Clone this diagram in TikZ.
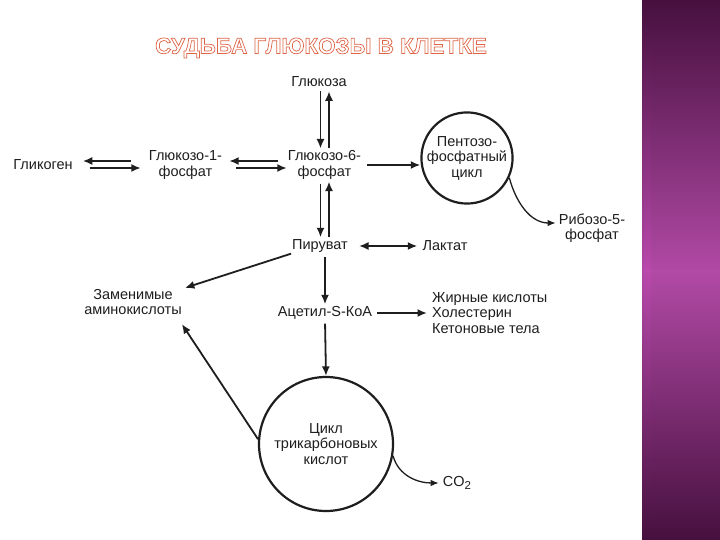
\documentclass[tikz,border=0pt]{standalone}
\usepackage{fontspec}
\setmainfont{Liberation Sans}
\usetikzlibrary{arrows.meta}
\definecolor{txt}{HTML}{1E1E1E}
\definecolor{ttl}{RGB}{222,100,70}
\definecolor{bandA}{HTML}{46103E}
\definecolor{bandB}{HTML}{B24AA6}
\definecolor{stripe}{HTML}{C24AB4}
\newcommand{\outlinetext}[1]{\special{pdf:literal 1 Tr 0.7 w}#1\special{pdf:literal 0 Tr}}
\begin{document}
\begin{tikzpicture}[x=1pt,y=1pt,
  lbl/.style={font=\fontsize{14.5}{15.5}\selectfont, align=center, inner sep=1pt, text=txt},
  tip/.style={-{Latex[length=9.5pt,width=8pt]}},
  arr/.style={line width=1.8pt, draw=txt, tip},
  thinarr/.style={line width=1.3pt, draw=txt, -{Latex[length=8pt,width=6.5pt]}},
  cyc/.style={circle, draw=txt, line width=2.2pt, align=center, inner sep=0pt,
    font=\fontsize{14.5}{15.5}\selectfont, text=txt},
  ttlfont/.style={font=\bfseries\fontsize{22.4}{25}\selectfont, inner sep=0pt}
]
\useasboundingbox (0,0) rectangle (720,-540);
\fill[white] (0,0) rectangle (720,-540);
% right band
\shade[top color=bandA, bottom color=bandB] (642,0) rectangle (720,-275);
\shade[top color=bandB, bottom color=bandA] (642,-270) rectangle (720,-540);
\shade[top color=bandA, bottom color=stripe, opacity=0.5] (644,0) rectangle (651,-270);
\shade[top color=stripe, bottom color=bandA, opacity=0.5] (644,-270) rectangle (651,-540);

% title (outlined letters)
\node[ttlfont, text=ttl] (title) at (321,-48) {\outlinetext{СУДЬБА ГЛЮКОЗЫ В КЛЕТКЕ}};

% nodes
\node[lbl] (glu) at (319,-82) {Глюкоза};
\node[lbl] (g6p) at (324.5,-165) {Глюкозо-6-\\фосфат};
\node[lbl] (g1p) at (185.5,-165) {Глюкозо-1-\\фосфат};
\node[lbl] (glyc) at (43,-165) {Гликоген};
\node[cyc, minimum size=90pt] (ppc) at (467,-158) {Пентозо-\\фосфатный\\цикл};
\node[lbl] (rib) at (592,-228) {Рибозо-5-\\фосфат};
\node[lbl] (pyr) at (320,-246) {Пируват};
\node[lbl] (lac) at (445,-246) {Лактат};
\node[lbl] (ami) at (133,-302) {Заменимые\\аминокислоты};
\node[lbl] (acoa) at (325,-313) {Ацетил-S-КоА};
\node[lbl, align=left, anchor=west] (fat) at (431,-313) {Жирные кислоты\\Холестерин\\Кетоновые тела};
\node[cyc, minimum size=134pt] (tca) at (326,-444) {Цикл\\трикарбоновых\\кислот};
\node[lbl] (co2) at (457,-483) {CO\raisebox{-3pt}{\fontsize{11.5}{11.5}\selectfont 2}};

% glucose <-> G6P
\draw[arr, shorten <=3pt, shorten >=1pt] ([xshift=-4pt]g6p.north |- glu.south) -- ([xshift=-4pt]g6p.north);
\draw[arr, shorten <=1pt, shorten >=3pt] ([xshift=4.5pt]g6p.north) -- ([xshift=4.5pt]g6p.north |- glu.south);
% G6P <-> pyruvate
\draw[arr, shorten <=3pt, shorten >=1pt] ([xshift=-4pt]g6p.south) -- ([xshift=-4pt]g6p.south |- pyr.north);
\draw[arr, shorten <=1pt, shorten >=1pt] ([xshift=4.5pt]g6p.south |- pyr.north) -- ([xshift=4.5pt]g6p.south);
% glycogen <-> G1P
\draw[arr, shorten <=17pt, shorten >=9pt] ([yshift=4pt]g1p.west) -- ([yshift=4pt]glyc.east);
\draw[arr, shorten <=16pt, shorten >=7pt] ([yshift=-3pt]glyc.east) -- ([yshift=-3pt]g1p.west);
% G1P <-> G6P
\draw[arr, shorten <=9pt, shorten >=6pt] ([yshift=4pt]g6p.west) -- ([yshift=4pt]g1p.east);
\draw[arr, shorten <=13pt, shorten >=0pt] ([yshift=-3pt]g1p.east) -- ([yshift=-3pt]g6p.west);
% G6P -> pentose cycle
\draw[arr, shorten <=5pt] (g6p.east) -- (g6p.east -| ppc.west);
% pentose cycle -> ribose-5-phosphate
\draw[thinarr] (ppc.-25) to[out=-75,in=180] ([yshift=5pt,xshift=-2pt]rib.west);
% pyruvate <-> lactate
\draw[line width=1.8pt, draw=txt, {Latex[length=9.5pt,width=8pt]}-{Latex[length=9.5pt,width=8pt]}, shorten <=10pt, shorten >=4pt] (pyr.east) -- (lac.west);
% pyruvate -> amino acids
\draw[arr] (pyr.south west) -- ([xshift=2pt]ami.north east);
% pyruvate -> acetyl-CoA
\draw[arr, shorten <=3pt, shorten >=1pt] (acoa.north |- pyr.south) -- (acoa.north);
% acetyl-CoA -> fatty acids etc.
\draw[arr, shorten <=4pt, shorten >=4pt] (acoa.east) -- (fat.west);
% acetyl-CoA -> TCA
\draw[arr, shorten <=3pt] (acoa.south) -- (tca.north);
% TCA -> amino acids
\draw[arr] (tca.176) -- ([xshift=-1pt,yshift=-8pt]ami.south east);
% TCA -> CO2
\draw[thinarr] (tca.-10) to[out=-75,in=180] ([xshift=-3pt]co2.west);
\end{tikzpicture}
\end{document}
